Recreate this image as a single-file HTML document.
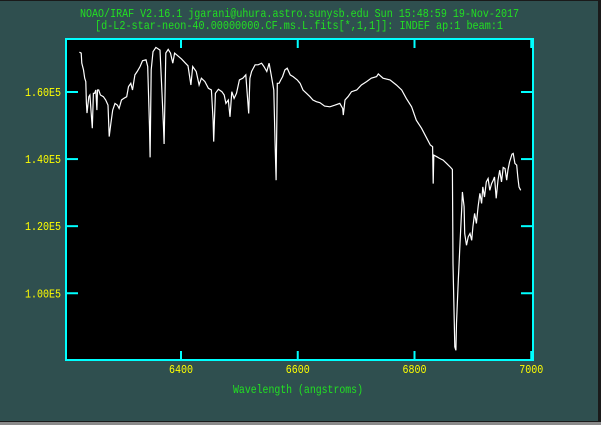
<!DOCTYPE html>
<html><head><meta charset="utf-8">
<style>
html,body{margin:0;padding:0;background:#2f4f4f;}
svg{display:block;}
text{font-family:"Liberation Mono",monospace;}
</style></head>
<body>
<svg id="chart" width="601" height="425" viewBox="0 0 601 425" xmlns="http://www.w3.org/2000/svg">
  <rect x="0" y="0" width="601" height="425" fill="#2f4f4f"/>
  <rect x="0" y="0" width="601" height="1" fill="#1a1a1a"/>
  <rect x="598" y="0" width="3" height="425" fill="#1a1a1a"/>
  <rect x="0" y="421" width="601" height="1" fill="#1a1a1a"/>
  <rect x="0" y="422" width="601" height="3" fill="#8a8a8a"/>
  <text x="80" y="17" textLength="439" lengthAdjust="spacingAndGlyphs" font-size="12" fill="#22e022">NOAO/IRAF V2.16.1 jgarani@uhura.astro.sunysb.edu Sun 15:48:59 19-Nov-2017</text>
  <text x="95" y="29" textLength="408" lengthAdjust="spacingAndGlyphs" font-size="12" fill="#22e022">[d-L2-star-neon-40.00000000.CF.ms.L.fits[*,1,1]]:  INDEF ap:1 beam:1</text>
  <rect x="66" y="39" width="467" height="321" fill="#000"/>
  <g id="marks"></g>
  <g id="axes"></g>
  <text x="233" y="393" textLength="130" lengthAdjust="spacingAndGlyphs" font-size="12" fill="#22e022">Wavelength (angstroms)</text>
</svg>
<script>
const wavelengths=[6226,6229,6230,6233,6235,6237,6238,6239,6242,6244,6246,6248,6250,6252,6254,6256,6257,6259,6262,6267,6271,6275,6277,6280,6283,6287,6291,6294,6298,6302,6307,6310,6314,6317,6321,6325,6330,6334,6340,6343,6346,6347,6349,6352,6357,6364,6367,6370,6371,6374,6378,6382,6386,6389,6395,6401,6407,6412,6417,6420,6426,6431,6435,6441,6447,6452,6455,6456,6459,6464,6470,6474,6477,6481,6484,6487,6491,6495,6500,6506,6511,6516,6518,6521,6527,6532,6538,6542,6547,6551,6555,6559,6561,6563,6565,6568,6571,6574,6578,6582,6587,6592,6599,6604,6609,6615,6621,6626,6632,6638,6646,6655,6664,6672,6677,6678,6681,6686,6692,6701,6709,6718,6726,6735,6738,6746,6758,6769,6778,6786,6795,6803,6812,6821,6827,6831,6832,6833,6838,6843,6849,6855,6862,6865,6866,6869,6871,6872,6875,6878,6881,6882,6885,6886,6889,6892,6895,6898,6900,6903,6906,6909,6912,6915,6917,6920,6923,6926,6929,6932,6935,6937,6940,6943,6946,6949,6952,6955,6958,6960,6963,6967,6969,6972,6975,6977,6979,6982];
const fluxValues=[171900,171600,168600,166600,164100,163100,156700,153700,158600,159100,154100,149200,159600,159600,160600,154600,160600,160600,159100,158600,157600,156100,146700,150700,154600,156600,156100,155100,157600,158100,158600,161600,162600,160600,165100,166100,167600,169300,169600,167600,149600,140500,166600,172000,173300,172500,161600,149600,144500,171600,172700,171600,168600,171600,170700,169800,168700,167800,162100,167600,166100,162100,164100,163100,161100,160600,151600,145200,159600,160800,160100,159100,156600,157600,152600,160100,158100,159600,163600,164100,165100,153600,164100,166100,168100,168100,168600,167600,166100,168600,164600,160600,145700,133700,162600,162600,163600,164600,166600,167100,165100,164600,163600,162600,160600,159600,158600,157600,157100,156800,155800,155600,156100,156600,155100,153100,157600,158600,160100,160600,162100,163100,164100,164600,165400,164100,163600,162100,160600,158100,155600,151600,149200,146200,144200,143700,132700,141200,140700,140200,139700,138700,137500,136900,108900,84000,83000,91000,103900,114800,125800,130200,125800,117800,114300,116800,117800,115800,119800,123800,120800,125800,129800,126800,131700,128700,133200,134200,130700,132700,133700,134700,128300,133700,136700,133200,137500,137200,133700,136700,139200,141500,141700,138700,138200,134700,131700,130700];
const xTickValues=[6400,6600,6800,7000];
const xTickLabels=["6400","6600","6800","7000"];
const yTickValues=[100000,120000,140000,160000];
const yTickLabels=["1.00E5","1.20E5","1.40E5","1.60E5"];
const X0=66,X1=533,Y0=39,Y1=360;
const xMin=6203,xMax=7003,yMin=80100,yMax=175800;
function sx(v){return X0+(v-xMin)/(xMax-xMin)*(X1-X0);}
function sy(v){return Y1-(v-yMin)/(yMax-yMin)*(Y1-Y0);}
const NS="http://www.w3.org/2000/svg";
const marks=document.getElementById('marks');
const axes=document.getElementById('axes');
let d="";
for(let i=0;i<wavelengths.length;i++){d+=(i?"L":"M")+sx(wavelengths[i]).toFixed(1)+" "+sy(fluxValues[i]).toFixed(1);}
const line=document.createElementNS(NS,'path');
line.setAttribute('d',d);line.setAttribute('fill','none');line.setAttribute('stroke','#fff');line.setAttribute('stroke-width','1.2');


marks.appendChild(line);
const frame=document.createElementNS(NS,'rect');
frame.setAttribute('x',X0);frame.setAttribute('y',Y0);frame.setAttribute('width',X1-X0);frame.setAttribute('height',Y1-Y0);
frame.setAttribute('fill','none');frame.setAttribute('stroke','#00ffff');frame.setAttribute('stroke-width','2');


axes.appendChild(frame);
function seg(x1,y1,x2,y2){const l=document.createElementNS(NS,'line');l.setAttribute('x1',x1);l.setAttribute('y1',y1);l.setAttribute('x2',x2);l.setAttribute('y2',y2);l.setAttribute('stroke','#00ffff');l.setAttribute('stroke-width','2');axes.appendChild(l);return l;}
xTickValues.forEach((v,i)=>{
  const x=sx(v);
  const b=seg(x,Y1,x,Y1-9);
  
  
  const t=seg(x,Y0,x,Y0+9);
  
  
  const tx=document.createElementNS(NS,'text');
  tx.setAttribute('x',x);tx.setAttribute('y',373);tx.setAttribute('text-anchor','middle');
  tx.setAttribute('font-size','12');tx.setAttribute('fill','#ffff00');
  tx.setAttribute('textLength','24');tx.setAttribute('lengthAdjust','spacingAndGlyphs');
  tx.textContent=xTickLabels[i];
  
  
  axes.appendChild(tx);
});
yTickValues.forEach((v,i)=>{
  const y=sy(v);
  const l=seg(X0,y,X0+12,y);
  
  
  const r=seg(X1,y,X1-12,y);
  
  
  const tx=document.createElementNS(NS,'text');
  tx.setAttribute('x',25);tx.setAttribute('y',y+4);
  tx.setAttribute('font-size','12');tx.setAttribute('fill','#ffff00');
  tx.setAttribute('textLength','36');tx.setAttribute('lengthAdjust','spacingAndGlyphs');
  tx.textContent=yTickLabels[i];
  
  
  axes.appendChild(tx);
});
</script>
</body></html>
